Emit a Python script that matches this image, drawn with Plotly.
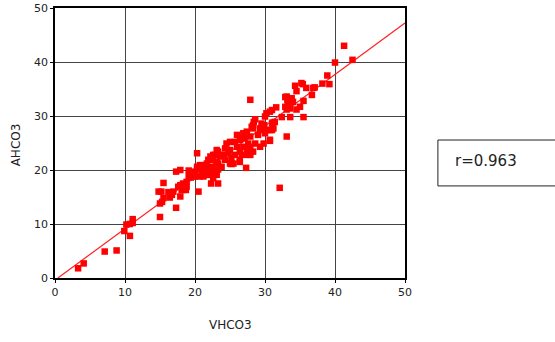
import plotly.graph_objects as go

# Estimated data points (VHCO3, AHCO3)
vhco3 = [3.3, 4.1, 7.1, 8.8, 9.9, 10.7, 10.2, 10.7, 11.1, 11.1,
         15.0, 15.0, 14.8, 15.2, 15.5, 15.5, 15.3, 16.2, 16.4, 16.4, 16.7, 16.9, 17.3, 17.3, 17.9, 17.6, 17.9, 17.9,
         18.3, 18.1, 18.7, 18.3, 18.8, 18.8, 19.1, 19.1, 19.3, 19.4, 19.8, 20.0, 20.0, 20.5, 20.3, 20.3, 20.5, 20.3,
         20.7, 20.7, 21.0, 21.0, 21.2, 21.2, 21.4, 21.4, 21.7, 21.7, 21.7, 21.7, 21.9, 22.2, 22.2, 22.3, 22.4, 22.4,
         22.6, 22.6, 22.6, 22.9, 22.9, 23.1, 23.1, 23.1, 23.1, 23.3, 23.3, 23.3, 23.3, 23.6, 23.8, 24.1, 24.3, 24.3,
         24.5, 24.8, 25.0, 25.0, 25.0, 25.2, 25.2, 25.5, 25.7, 25.7, 26.0, 26.0, 26.4, 26.4, 26.4, 26.4, 26.7, 26.7,
         26.9, 26.9, 27.1, 27.3, 27.4, 27.4, 27.6, 27.6, 27.6, 27.9, 27.9, 27.9, 27.9, 28.1, 28.3, 28.3, 28.3, 28.4,
         28.6, 28.6, 29.0, 29.3, 29.3, 29.5, 29.5, 29.8, 29.9, 30.0, 30.0, 30.2, 30.2, 30.7, 30.7, 30.7, 30.7, 31.0,
         31.0, 31.0, 31.1, 31.2, 31.4, 31.6, 32.1, 32.4, 32.9, 32.9, 33.1, 33.1, 33.1, 33.2, 33.2, 33.3, 33.6, 33.6,
         33.8, 33.8, 34.0, 34.3, 34.5, 34.5, 35.0, 35.2, 35.4, 35.5, 35.5, 35.9, 36.7, 36.9, 37.1, 38.2, 38.9, 39.2,
         40.0, 41.3, 42.5]
ahco3 = [1.8, 2.7, 4.9, 5.1, 8.7, 7.8, 9.9, 10.0, 10.9, 10.2,
         11.3, 13.8, 16.0, 16.0, 17.6, 14.8, 14.1, 15.9, 15.7, 14.9, 15.4, 16.0, 13.0, 19.7, 20.0, 16.9, 15.1, 17.2,
         16.4, 16.3, 16.3, 17.5, 17.8, 16.9, 19.9, 18.8, 18.8, 18.6, 18.8, 18.8, 19.7, 16.0, 23.1, 20.1, 20.3, 20.6,
         20.9, 18.8, 20.9, 19.4, 18.8, 20.3, 20.0, 19.4, 20.0, 21.2, 19.1, 20.9, 21.9, 22.5, 19.1, 17.5, 20.6, 20.0,
         21.9, 18.5, 22.8, 22.8, 19.7, 23.7, 21.5, 20.0, 19.1, 17.5, 20.1, 21.2, 23.4, 22.5, 20.6, 22.8, 21.9, 24.0,
         24.9, 23.1, 25.2, 23.7, 21.2, 22.2, 21.1, 21.2, 25.2, 22.8, 26.5, 24.3, 25.6, 23.4, 21.9, 21.5, 25.9, 22.8,
         26.8, 24.3, 25.9, 20.4, 27.1, 23.1, 24.9, 24.3, 22.8, 24.3, 22.8, 26.2, 33.0, 28.0, 28.3, 27.7, 23.4, 28.9,
         29.4, 24.9, 26.5, 27.7, 24.3, 28.6, 27.4, 24.9, 28.3, 29.9, 26.8, 30.5, 27.4, 30.8, 27.4, 25.6, 25.4, 31.1,
         28.6, 27.4, 28.8, 27.7, 28.9, 31.6, 16.7, 29.8, 31.7, 33.5, 33.6, 31.2, 26.2, 33.0, 31.7, 32.5, 31.4, 29.8,
         33.3, 33.0, 32.6, 35.6, 34.6, 31.2, 31.7, 36.1, 35.9, 32.8, 29.8, 35.2, 33.9, 35.2, 35.3, 36.0, 37.5, 35.9,
         39.9, 43.0, 40.4]

# Regression line
fit_slope = 0.952
fit_intercept = -0.39
fit_x = [0.41, 50]
fit_y = [fit_slope * v + fit_intercept for v in fit_x]

tick_vals = [0, 10, 20, 30, 40, 50]
x_title = "VHCO3"
y_title = "AHCO3"
r_label = "r=0.963"

fig = go.Figure()
fig.add_trace(go.Scatter(x=fit_x, y=fit_y, mode="lines",
                         line=dict(color="#ff2020", width=1.2), hoverinfo="skip"))
fig.add_trace(go.Scatter(x=vhco3, y=ahco3, mode="markers",
                         marker=dict(symbol="square", size=6.5, color="#ff0000",
                                     line=dict(width=0))))

axis_common = dict(range=[0, 50], tickvals=tick_vals, showgrid=True, gridcolor="#444",
                   gridwidth=1.3, showline=True, linecolor="black", linewidth=1.5, mirror=True,
                   ticks="outside", ticklen=3, tickcolor="black", zeroline=False,
                   automargin=False,
                   tickfont=dict(family="DejaVu Sans", size=11, color="#222"))

fig.update_xaxes(**axis_common)
fig.update_yaxes(**axis_common)

title_font = dict(family="DejaVu Sans", size=12, color="#222")
fig.add_annotation(text=x_title, xref="paper", yref="paper", x=0.5, y=-0.174,
                   xanchor="center", yanchor="middle", showarrow=False, font=title_font)
fig.add_annotation(text=y_title, xref="paper", yref="paper", x=-0.113, y=0.493,
                   xanchor="center", yanchor="middle", showarrow=False, textangle=-90,
                   font=title_font)

fig.add_shape(type="rect", xref="paper", yref="paper", x0=1.094, x1=1.45, y0=0.341, y1=0.511,
              line=dict(color="#222", width=1), fillcolor="white")
fig.add_annotation(text=r_label, xref="paper", yref="paper", x=1.137, y=0.435,
                   xanchor="left", yanchor="middle", showarrow=False,
                   font=dict(family="DejaVu Sans", size=15, color="#222"))

fig.update_layout(width=555, height=342, margin=dict(l=55, r=150, t=8, b=64),
                  paper_bgcolor="white", plot_bgcolor="white", showlegend=False)

fig.write_html("out.html", config={"displayModeBar": False},
               post_script="document.body.style.margin='0';")
